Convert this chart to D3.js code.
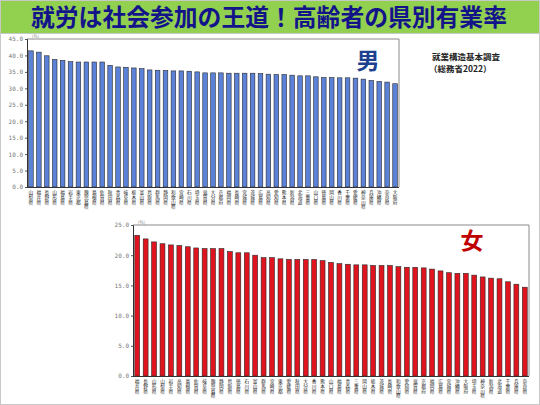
<!DOCTYPE html>
<html>
<head>
<meta charset="utf-8">
<script src="https://cdn.jsdelivr.net/npm/d3@7"></script>
<style>
  body { margin: 0; background: #fff; }
  svg { display: block; font-family: "Noto Sans CJK JP", sans-serif; }
</style>
</head>
<body>
<script>
// 就業構造基本調査（総務省2022） 高齢者の有業率（%）
var maleNames = ["山梨県","福井県","長野県","山形県","福島県","岩手県","東京都","鹿児島県","島根県","佐賀県",
  "秋田県","青森県","岐阜県","栃木県","富山県","鳥取県","群馬県","静岡県","和歌山県","宮崎県",
  "石川県","埼玉県","滋賀県","大分県","京都府","福岡県","長崎県","宮城県","茨城県","広島県",
  "高知県","愛知県","熊本県","新潟県","北海道","三重県","山口県","徳島県","岡山県","香川県",
  "千葉県","愛媛県","神奈川県","兵庫県","沖縄県","奈良県","大阪府"];
var maleValues = [41.4,41.0,39.9,38.8,38.5,38.1,38.0,38.0,38.0,38.0,
  37.0,36.5,36.4,36.2,36.0,35.6,35.5,35.4,35.3,35.3,
  35.2,35.0,34.7,34.7,34.7,34.6,34.6,34.6,34.6,34.5,
  34.3,34.2,34.2,34.0,33.8,33.8,33.5,33.3,33.3,33.2,
  33.2,33.1,32.8,32.4,32.1,31.9,31.4];

var femaleNames = ["福井県","長野県","山形県","山梨県","岩手県","高知県","島根県","佐賀県","岐阜県","鹿児島県",
  "静岡県","鳥取県","徳島県","石川県","富山県","群馬県","宮崎県","東京都","愛媛県","秋田県",
  "大分県","香川県","熊本県","山口県","福島県","青森県","三重県","岡山県","栃木県","茨城県",
  "長崎県","和歌山県","愛知県","滋賀県","京都府","福岡県","広島県","宮城県","沖縄県","大阪府",
  "埼玉県","神奈川県","新潟県","北海道","千葉県","兵庫県","奈良県"];
var femaleValues = [23.3,22.7,22.2,21.9,21.7,21.6,21.4,21.2,21.1,21.1,
  21.1,20.6,20.4,20.4,20.0,19.6,19.6,19.4,19.3,19.3,
  19.3,19.3,19.1,18.8,18.6,18.5,18.4,18.4,18.3,18.3,
  18.3,18.1,18.0,18.0,17.9,17.7,17.4,17.1,17.0,17.0,
  16.7,16.4,16.2,16.1,15.6,15.2,14.7];

var maleTicks = [0,5,10,15,20,25,30,35,40,45];
var femaleTicks = [0,5,10,15,20,25];

var W = 540, H = 405;
var svg = d3.select("body").append("svg").attr("width", W).attr("height", H);

svg.append("rect").attr("x", 0.5).attr("y", 0.5).attr("width", W - 1).attr("height", H - 1)
  .attr("fill", "#fff").attr("stroke", "#c8c8c8");

// title band
svg.append("rect").attr("x", 1).attr("y", 1).attr("width", W - 2).attr("height", 32).attr("fill", "#92d050");
svg.append("line").attr("x1", 1).attr("x2", W - 1).attr("y1", 33.5).attr("y2", 33.5).attr("stroke", "#c8c8c8");
svg.append("text").attr("x", 269).attr("y", 25.5).attr("text-anchor", "middle")
  .attr("font-size", 23.8).attr("font-weight", "bold").attr("fill", "#14148a")
  .text("就労は社会参加の王道！高齢者の県別有業率");

function drawChart(cfg) {
  var x = d3.scaleBand().domain(cfg.names).range([cfg.left, cfg.right]).paddingInner(0.42).paddingOuter(0.21);
  var y = d3.scaleLinear().domain([0, cfg.max]).range([cfg.bottom, cfg.top]);
  var g = svg.append("g");

  // frame (top/right grey)
  g.append("path")
    .attr("d", "M" + cfg.left + "," + cfg.top + "H" + cfg.right + "V" + cfg.bottom)
    .attr("fill", "none").attr("stroke", "#8a8a8a").attr("stroke-width", 1);

  g.selectAll("rect.bar").data(cfg.values).enter().append("rect")
    .attr("class", "bar")
    .attr("x", function(d, i) { return x(cfg.names[i]); })
    .attr("width", x.bandwidth())
    .attr("y", function(d) { return y(d); })
    .attr("height", function(d) { return cfg.bottom - y(d); })
    .attr("fill", cfg.color)
    .attr("stroke", "#2a2a2a").attr("stroke-width", 0.6);

  var yAxis = g.append("g").attr("transform", "translate(" + cfg.left + ",0)")
    .call(d3.axisLeft(y).tickValues(cfg.ticks).tickSize(2).tickFormat(d3.format(".1f")));
  yAxis.select(".domain").attr("stroke", "#333");
  yAxis.selectAll(".tick line").attr("stroke", "#555");
  yAxis.selectAll("text").attr("font-size", 6).attr("fill", "#777").attr("x", -4)
    .attr("font-family", "DejaVu Sans Mono, monospace");

  g.append("line").attr("x1", cfg.left).attr("x2", cfg.right)
    .attr("y1", cfg.bottom + 0.5).attr("y2", cfg.bottom + 0.5).attr("stroke", "#333");

  g.append("text").attr("x", cfg.left + 5).attr("y", cfg.top - 0.8)
    .attr("font-size", 4.5).attr("fill", "#888").text("(%)");

  // vertical category labels
  g.selectAll("text.cat").data(cfg.names).enter().append("text")
    .attr("class", "cat")
    .attr("x", function(d) { return x(d) + x.bandwidth() / 2; })
    .attr("y", cfg.bottom + 3)
    .style("writing-mode", "vertical-rl")
    .attr("font-size", 4.7).attr("fill", "#222")
    .text(function(d) { return d; });

  svg.append("text").attr("x", cfg.markX).attr("y", cfg.markY).attr("text-anchor", "middle")
    .attr("font-size", 23).attr("font-weight", "bold").attr("fill", cfg.markColor).text(cfg.mark);
}

drawChart({names: maleNames, values: maleValues, ticks: maleTicks, max: 45,
  left: 27, right: 399, top: 39, bottom: 187, color: "#5b82d8",
  mark: "男", markX: 368, markY: 69, markColor: "#1f3f8f"});

drawChart({names: femaleNames, values: femaleValues, ticks: femaleTicks, max: 25,
  left: 133, right: 529, top: 225, bottom: 376, color: "#e0141e",
  mark: "女", markX: 472, markY: 249, markColor: "#c00000"});

svg.append("text").attr("x", 432).attr("y", 59.5).attr("font-size", 8.5).attr("font-weight", "bold")
  .attr("fill", "#222").text("就業構造基本調査");
svg.append("text").attr("x", 429).attr("y", 71.5).attr("font-size", 8.5).attr("font-weight", "bold")
  .attr("fill", "#222").text("（総務省2022）");
</script>
</body>
</html>
